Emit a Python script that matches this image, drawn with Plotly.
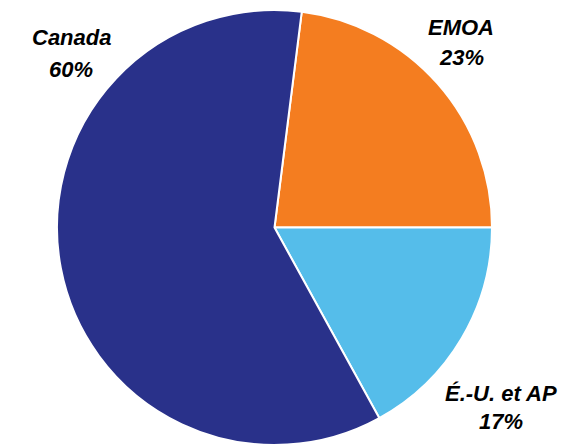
import plotly.graph_objects as go

labels = ["EMOA", "É.-U. et AP", "Canada"]
values = [23, 17, 60]
colors = ["#F47D20", "#55BDEA", "#29318A"]
label_text = ["EMOA", "É.-U. et AP", "Canada"]
pct_text = ["23%", "17%", "60%"]
# label positions in pixels (center x, line1 y, line2 y)
label_pos = [(461, 28, 57), (501, 393, 421), (71, 37, 70)]

W, H = 582, 445
fig = go.Figure(go.Pie(
    labels=labels, values=values, sort=False, direction="clockwise",
    rotation=90 - values[0] * 3.6,
    marker=dict(colors=colors, line=dict(color="white", width=2)),
    textinfo="none", hoverinfo="label+percent", showlegend=False,
    domain=dict(x=[(274.5 - 217.5) / W, (274.5 + 217.5) / W], y=[0, (H - 10) / H]),
))

font = dict(family="Liberation Sans, Arial, sans-serif", size=22, color="black",
            weight="bold", style="italic")
for t1, t2, (cx, y1, y2) in zip(label_text, pct_text, label_pos):
    fig.add_annotation(x=cx / W, y=1 - y1 / H, xref="paper", yref="paper", text=t1,
                       showarrow=False, font=font, xanchor="center", yanchor="middle")
    fig.add_annotation(x=cx / W, y=1 - y2 / H, xref="paper", yref="paper", text=t2,
                       showarrow=False, font=font, xanchor="center", yanchor="middle")

fig.update_layout(width=W, height=H, margin=dict(l=0, r=0, t=0, b=0),
                  paper_bgcolor="white", plot_bgcolor="white")
fig.write_html("out.html")
